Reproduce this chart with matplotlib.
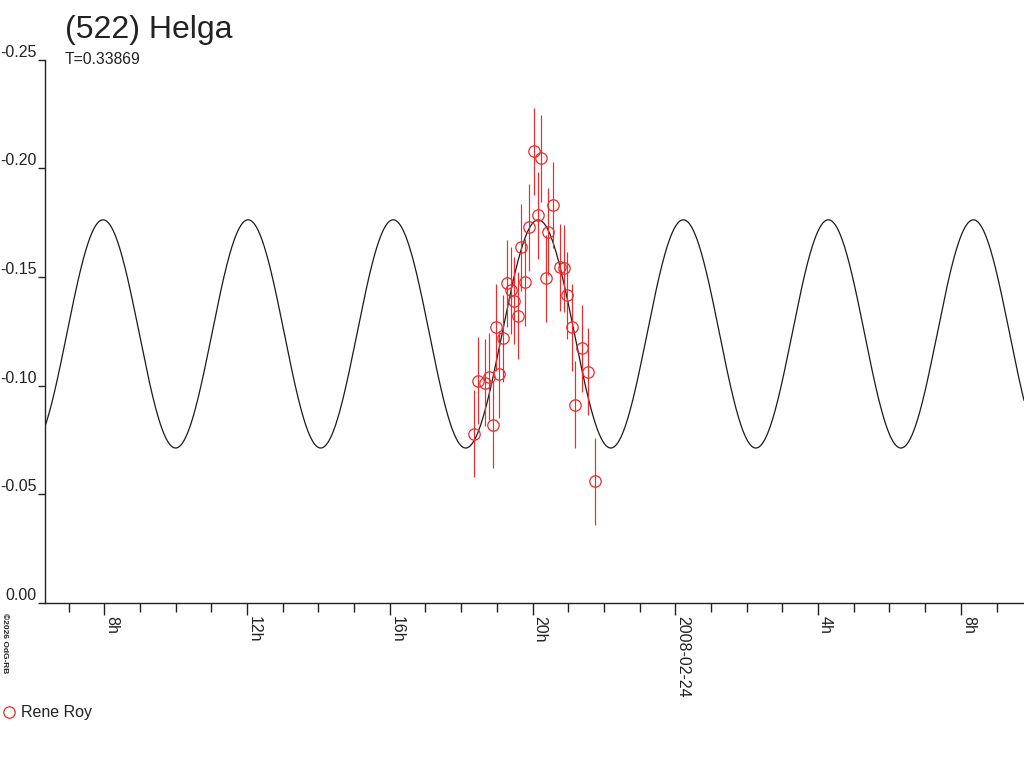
import matplotlib
matplotlib.use('Agg')
import matplotlib.pyplot as plt
import numpy as np

plt.rcParams['font.family'] = ['Liberation Sans', 'DejaVu Sans']
plt.rcParams['axes.unicode_minus'] = False

# observations: hours since 2008-02-23 00:00, relative magnitude, error
obs_hours = [18.353, 18.482, 18.669, 18.790, 18.885, 18.978, 19.070, 19.182,
             19.286, 19.384, 19.490, 19.585, 19.686, 19.790, 19.910, 20.050,
             20.146, 20.246, 20.364, 20.443, 20.583, 20.756, 20.888, 20.966,
             21.106, 21.199, 21.378, 21.546, 21.759]
obs_mag = [-0.0779, -0.1023, -0.1014, -0.1042, -0.0821, -0.1268, -0.1053, -0.1217,
           -0.1472, -0.1439, -0.1390, -0.1321, -0.1636, -0.1476, -0.1728, -0.2078,
           -0.1783, -0.2047, -0.1495, -0.1707, -0.1831, -0.1544, -0.1541, -0.1415,
           -0.1269, -0.0913, -0.1173, -0.1064, -0.0560]
obs_err = [0.020] * len(obs_hours)

# lightcurve fit (second harmonic of the rotation period)
period_days = 0.33869
fit_mean = -0.1238
fit_amp = 0.0525
fit_peak_hour = 24.224

x_min, x_max = 6.34, 33.77
y_ticks = [-0.25, -0.20, -0.15, -0.10, -0.05, 0.00]
y_labels = ['-0.25', '-0.20', '-0.15', '-0.10', '-0.05', '0.00']
x_major = [8, 12, 16, 20, 24, 28, 32]
x_labels = ['8h', '12h', '16h', '20h', '2008-02-24', '4h', '8h']
x_minor = list(range(7, 34))

fig = plt.figure(figsize=(10.24, 7.68), dpi=100)
ax = fig.add_axes([45 / 1024, 165 / 768, 979 / 1024, 543.4 / 768])

period_h = period_days * 24
t = np.linspace(x_min, x_max, 3000)
curve = fit_mean - fit_amp * np.cos(4 * np.pi * (t - fit_peak_hour) / period_h)
ax.plot(t, curve, color='#1a1a1a', lw=0.9)

ax.errorbar(obs_hours, obs_mag, yerr=obs_err, fmt='none', ecolor='#ee2a2a',
            elinewidth=0.85, capsize=0)
ax.plot(obs_hours, obs_mag, 'o', mfc='none', mec='#ee2a2a', mew=0.9, ms=8.2,
        label='Rene Roy')

ax.set_xlim(x_min, x_max)
ax.set_ylim(0, -0.25)
for s in ['top', 'right']:
    ax.spines[s].set_visible(False)
for s in ['left', 'bottom']:
    ax.spines[s].set_linewidth(1.0)
    ax.spines[s].set_color('#222222')

ax.set_yticks(y_ticks)
ax.set_yticklabels(y_labels)
ax.tick_params(axis='y', direction='out', length=5, width=1.0, color='#222222',
               pad=1, labelsize=11.5, labelcolor='#222222')
for lab in ax.get_yticklabels():
    lab.set_va('bottom')

ax.set_xticks(x_major)
ax.set_xticklabels(x_labels, rotation=-90, ha='left', va='top')
ax.set_xticks(x_minor, minor=True)
ax.tick_params(axis='x', which='major', direction='out', length=8.6, width=1.0,
               color='#222222', pad=0.5, labelsize=11.5, labelcolor='#222222')
ax.tick_params(axis='x', which='minor', direction='out', length=6.2, width=1.0,
               color='#222222')

fig.text(65 / 1024, 1 - 38 / 768, '(522) Helga', fontsize=23, color='#222222',
         va='baseline')
fig.text(65 / 1024, 1 - 63.5 / 768, 'T=0.33869', fontsize=11.3, color='#222222',
         va='baseline')
fig.text(1 / 1024, 1 - 613 / 768, '\u00a92026 OdG-RB', fontsize=6, fontweight='bold',
         rotation=-90, ha='left', va='top', color='#222222')

ax.legend(loc='center left', bbox_to_anchor=(1 / 1024, 1 - 713 / 768),
          bbox_transform=fig.transFigure, frameon=False, borderpad=0,
          borderaxespad=0, handlelength=1.0, handletextpad=0.25, fontsize=11.5,
          labelcolor='#222222')

fig.savefig('out.png', dpi=100)
